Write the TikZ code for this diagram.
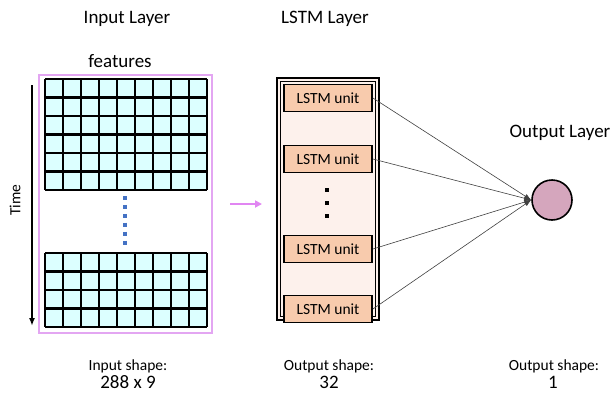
\documentclass[tikz,border=0pt]{standalone}
\usepackage{fontspec}
\setmainfont{Carlito}
\usetikzlibrary{arrows.meta}
\definecolor{cellfill}{HTML}{DCFFFF}
\definecolor{frameviolet}{HTML}{E3A6F2}
\definecolor{dotblue}{HTML}{4472C4}
\definecolor{layerfill}{HTML}{FDF1EC}
\definecolor{unitfill}{HTML}{F8CBAD}
\definecolor{outfill}{HTML}{D5A6BD}
\definecolor{feedviolet}{HTML}{E186F2}
\tikzset{
  title/.style={font=\fontsize{19}{21}\selectfont, inner sep=0},
  caption/.style={font=\fontsize{15.5}{17}\selectfont, inner sep=0},
  value/.style={font=\fontsize{19}{21}\selectfont, inner sep=0},
  gridline/.style={line width=2.4pt, black},
  unitbox/.style={draw=black, line width=1.8pt, fill=unitfill, minimum width=88pt,
    minimum height=27pt, inner sep=0, font=\fontsize{15.5}{17}\selectfont},
  outnode/.style={circle, draw=black, line width=1.6pt, fill=outfill, minimum size=40pt, inner sep=0},
  link/.style={line width=0.6pt, black!75, -{Latex[length=7pt,width=5pt]}},
}
\begin{document}
\begin{tikzpicture}[x=1pt,y=-1pt]
\useasboundingbox (0,0) rectangle (616,394);

% titles
\node[title] (tin) at (127,19) {Input Layer};
\node[title] (tlstm) at (325,19) {LSTM Layer};
\node[title] (tout) at (560,133) {Output Layer};
\node[title] (feat) at (120,61) {features};

% input frame
\draw[frameviolet, line width=1.6pt] (39,75) rectangle (212,333);

% feature grids (9 columns, 6 rows on top, 4 rows below)
\fill[cellfill] (45,79) rectangle (207,190);
\foreach \i in {0,...,9} \draw[gridline] ({45+18*\i},79) -- ({45+18*\i},190);
\foreach \j in {0,...,6} \draw[gridline] (45,{79+18.5*\j}) -- (207,{79+18.5*\j});
\fill[cellfill] (45,253) rectangle (207,327);
\foreach \i in {0,...,9} \draw[gridline] ({45+18*\i},253) -- ({45+18*\i},327);
\foreach \j in {0,...,4} \draw[gridline] (45,{253+18.5*\j}) -- (207,{253+18.5*\j});

% omitted time steps
\draw[dotblue, line width=3.8pt, dash pattern=on 4pt off 4.9pt] (125,196) -- (125,248);

% time axis
\coordinate (t0) at (32,85);
\coordinate (t1) at (32,326);
\draw[line width=1.6pt, -{Latex[length=8pt,width=6pt]}] (t0) -- (t1);
\node[caption, rotate=90] (time) at (15,200) {Time};

% feed arrow into the LSTM layer
\coordinate (f0) at (230,204);
\coordinate (f1) at (262,204);
\draw[feedviolet, line width=2pt, -{Triangle[length=7pt,width=7pt]}] (f0) -- (f1);

% LSTM layer
\fill[layerfill] (277,78) rectangle (379,320);
\draw[line width=2.2pt] (277,78) rectangle (379,320);
\draw[line width=1pt] (280.8,81.8) rectangle (375.2,316.2);

\node[unitbox] (u1) at (328,98) {LSTM unit};
\node[unitbox] (u2) at (328,159) {LSTM unit};
\node[unitbox] (u3) at (328,249) {LSTM unit};
\node[unitbox] (u4) at (328,309) {LSTM unit};
\foreach \y in {190,203,216} \fill (324.8,\y-2.2) rectangle (329.2,\y+2.2);

% output unit
\node[outnode] (out) at (552,200) {};
\foreach \u in {u1,u2,u3,u4} \draw[link] (\u.east) -- (out.west);

% shapes
\node[caption] (s1) at (128,366) {Input shape:};
\node[value] (v1) at (128,382.5) {288 x 9};
\node[caption] (s2) at (329,366) {Output shape:};
\node[value] (v2) at (329,382.5) {32};
\node[caption] (s3) at (554,366) {Output shape:};
\node[value] (v3) at (553,382.5) {1};
\end{tikzpicture}
\end{document}
